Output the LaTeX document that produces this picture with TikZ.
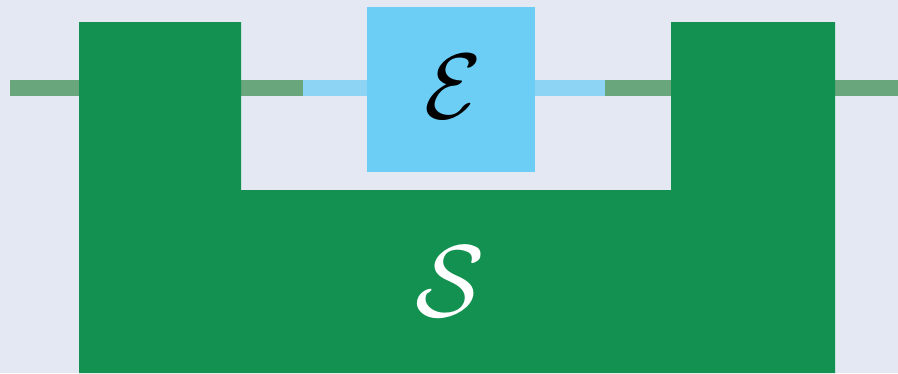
\documentclass[tikz,border=0pt]{standalone}
\usepackage{graphicx}
\definecolor{bg}{HTML}{E3E8F2}
\definecolor{sgreen}{HTML}{139150}
\definecolor{eblue}{HTML}{6CCEF5}
\definecolor{gline}{HTML}{69A67B}
\definecolor{bline}{HTML}{8CD3F4}
\tikzset{
  wire/.style={line width=16pt, line cap=butt},
  gwire/.style={wire, draw=gline},
  bwire/.style={wire, draw=bline},
}
\begin{document}
\begin{tikzpicture}[x=1pt,y=-1pt]
\fill[bg] (0,0) rectangle (898,373);
\useasboundingbox (0,0) rectangle (898,373);
% wires
\coordinate (l0) at (10,88);
\coordinate (l1) at (79,88);
\coordinate (m1) at (241,88);
\coordinate (m2) at (303,88);
\coordinate (m3) at (367,88);
\coordinate (m4) at (535,88);
\coordinate (m5) at (605,88);
\coordinate (m6) at (671,88);
\coordinate (r1) at (835,88);
\coordinate (r0) at (898,88);
\draw[gwire] (l0) -- (l1);
\draw[gwire] (m1) -- (m2);
\draw[bwire] (m2) -- (m3);
\draw[bwire] (m4) -- (m5);
\draw[gwire] (m5) -- (m6);
\draw[gwire] (r1) -- (r0);
% S block (U shape)
\fill[sgreen] (79,22) -- (241,22) -- (241,190) -- (671,190) -- (671,22) -- (835,22) -- (835,373) -- (79,373) -- cycle;
\node[text=white, inner sep=0pt] (S) at (450,282) {\scalebox{10.2}{$\mathcal{S}$}};
% E box
\node[fill=eblue, minimum width=168pt, minimum height=165pt, inner sep=0pt, anchor=north west] (E) at (367,7) {};
\node[inner sep=0pt] (Et) at (453,87) {\scalebox{9.3}{$\mathcal{E}$}};
\end{tikzpicture}
\end{document}
